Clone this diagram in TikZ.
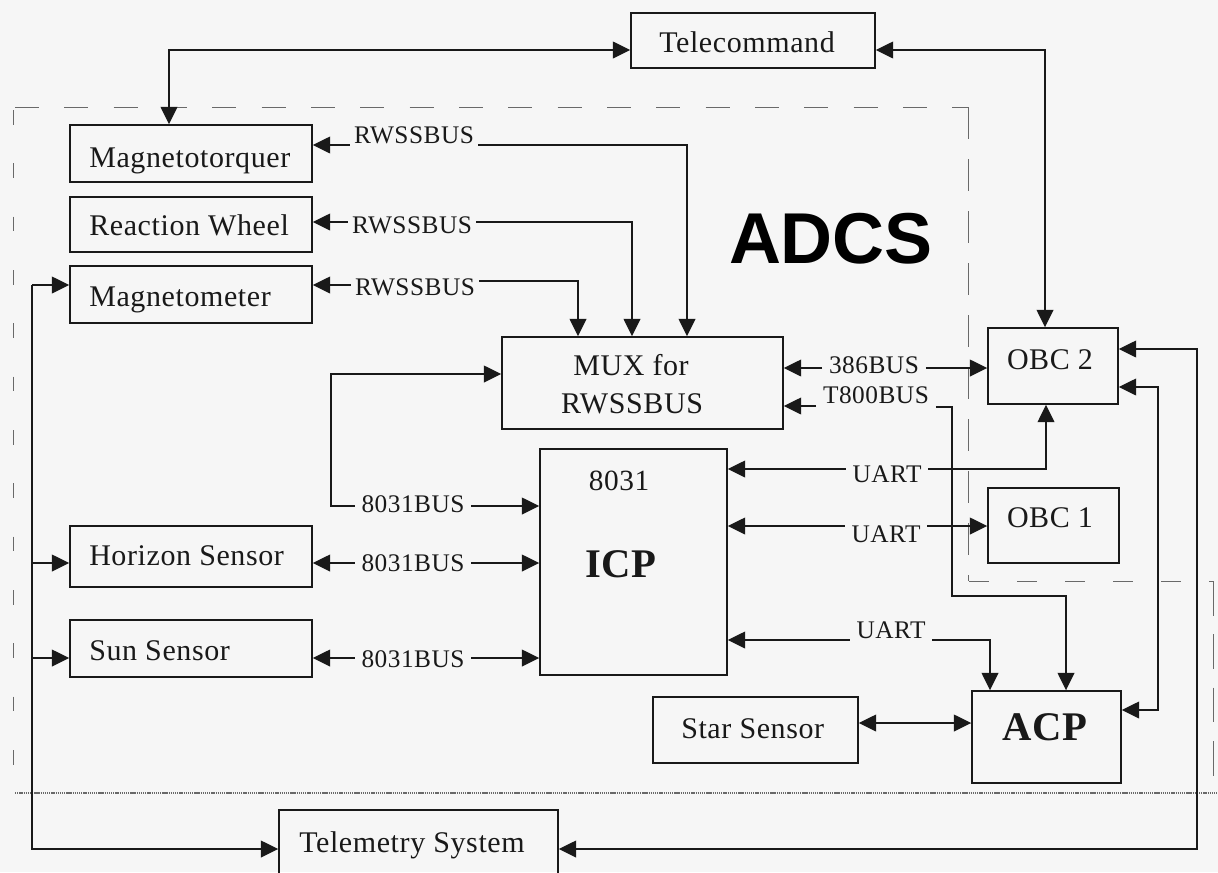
\documentclass[tikz,border=0pt]{standalone}
\usepackage{fontspec}
\setmainfont{Liberation Serif}[LetterSpace=2]
\setsansfont{Liberation Sans}
\usetikzlibrary{arrows.meta,fit}
\definecolor{paper}{RGB}{246,246,246}
\definecolor{ink}{RGB}{25,25,25}
\definecolor{rim}{RGB}{105,105,105}

\begin{document}
\begin{tikzpicture}[x=0.75pt,y=-0.75pt,
  >={Triangle[length=13pt,width=12.5pt]},
  box/.style={draw=ink,line width=1.1pt,inner sep=0pt,fit={#1}},
  txt/.style={font=\fontsize{22.5}{27}\selectfont,inner sep=0pt,anchor=base west,text=ink},
  ctxt/.style={font=\fontsize{22.5}{27}\selectfont,inner sep=0pt,anchor=base,text=ink},
  big/.style={font=\fontsize{30.5}{34}\selectfont\bfseries,inner sep=0pt,anchor=base,text=ink},
  bus/.style={font=\fontsize{19}{22}\selectfont,inner xsep=5pt,inner ysep=0pt,anchor=base,text=ink},
  conn/.style={draw=ink,line width=1.1pt},
  edge/.style={draw=rim,line width=0.75pt}]

\useasboundingbox (0,0) rectangle (1218,872);
\fill[paper] (0,0) rectangle (1218,872);
\clip (0,0) rectangle (1218,872);

% ADCS boundary
\draw[edge,dash pattern=on 18pt off 19pt] (15,107) -- (968,107);
\draw[edge,dash pattern=on 11pt off 29pt] (13,110) -- (13,790);
\draw[edge,dash pattern=on 24pt off 15pt] (968,107) -- (968,581);
\draw[edge,dash pattern=on 15pt off 21pt] (969,581) -- (1213,581);
\draw[edge,dash pattern=on 26pt off 14pt] (1213,581) -- (1213,790);
\draw[edge,line width=0.9pt,dash pattern=on 1pt off 0.6pt] (15,793) -- (1218,793);

\node[font=\fontsize{54}{54}\sffamily\bfseries,inner sep=0pt,anchor=base,text=black] (adcs) at (831,263) {ADCS};

% blocks
\node[box={(631,13) (875,68)}] (tc) {};
\node[txt] at (659,52) {Telecommand};

\node[box={(70,125) (312,182)}] (mt) {};
\node[txt] at (89,167) {Magnetotorquer};
\node[box={(70,197) (312,252)}] (rw) {};
\node[txt] at (89,235) {Reaction Wheel};
\node[box={(70,266) (312,323)}] (mm) {};
\node[txt] at (89,306) {Magnetometer};
\node[box={(70,526) (312,587)}] (hs) {};
\node[txt] at (89,565) {Horizon Sensor};
\node[box={(70,620) (312,677)}] (ss) {};
\node[txt] at (89,660) {Sun Sensor};

\node[box={(502,337) (783,429)}] (mux) {};
\node[ctxt] at (631,375) {MUX for};
\node[ctxt] at (632,413) {RWSSBUS};

\node[box={(540,449) (727,675)}] (icp) {};
\node[font=\fontsize{22}{26}\selectfont,inner sep=0pt,anchor=base,text=ink] at (619,490) {8031};
\node[big] at (621,577) {ICP};

\node[box={(988,328) (1118,404)}] (obc2) {};
\node[ctxt] at (1050,369) {OBC 2};
\node[box={(988,488) (1119,563)}] (obc1) {};
\node[ctxt] at (1050,527) {OBC 1};

\node[box={(972,691) (1121,783)}] (acp) {};
\node[big] at (1045,740) {ACP};

\node[box={(653,697) (858,763)}] (star) {};
\node[txt] at (681,738) {Star Sensor};

\node[box={(279,810) (558,880)}] (tm) {};
\node[txt] at (299,852) {Telemetry System};

% telecommand links
\draw[conn,<->] (tc.west |- 0,50) -| (169,0 |- mt.north);
\draw[conn,<->] (tc.east |- 0,50) -| (1045,0 |- obc2.north);

% RWSSBUS links to the multiplexer
\node[bus,inner xsep=3pt] (b1) at (414,143) {RWSSBUS};
\draw[conn,->] (b1.west |- 0,145) -- (mt.east |- 0,145);
\draw[conn,->] (b1.east |- 0,145) -| (687,0 |- mux.north);

\node[bus,inner xsep=3pt] (b2) at (412,233) {RWSSBUS};
\draw[conn,->] (b2.west |- 0,222) -- (rw.east |- 0,222);
\draw[conn,->] (b2.east |- 0,222) -| (632,0 |- mux.north);

\node[bus,inner xsep=3pt] (b3) at (415,295) {RWSSBUS};
\draw[conn,->] (b3.west |- 0,285) -- (mm.east |- 0,285);
\draw[conn,->] (b3.east |- 0,281) -| (578,0 |- mux.north);

% 8031BUS links
\node[bus] (c1) at (413,512) {8031BUS};
\draw[conn,->] (c1.west |- 0,506) -| (331,374) -- (mux.west |- 0,374);
\draw[conn,->] (c1.east |- 0,506) -- (icp.west |- 0,506);

\node[bus] (c2) at (413,571) {8031BUS};
\draw[conn,->] (c2.west |- 0,563) -- (hs.east |- 0,563);
\draw[conn,->] (c2.east |- 0,563) -- (icp.west |- 0,563);

\node[bus] (c3) at (413,667) {8031BUS};
\draw[conn,->] (c3.west |- 0,658) -- (ss.east |- 0,658);
\draw[conn,->] (c3.east |- 0,658) -- (icp.west |- 0,658);

% multiplexer to computers
\node[bus] (p1) at (874,373) {386BUS};
\draw[conn,->] (p1.west |- 0,368) -- (mux.east |- 0,368);
\draw[conn,->] (p1.east |- 0,368) -- (obc2.west |- 0,368);

\node[bus] (t1) at (876,403) {T800BUS};
\draw[conn,->] (t1.west |- 0,406) -- (mux.east |- 0,406);
\draw[conn,->] (t1.east |- 0,407) -- (952,407) -- (952,596) -| (1066,0 |- acp.north);

% UART links from the ICP
\node[bus] (u1) at (887,482) {UART};
\draw[conn,->] (u1.west |- 0,469) -- (icp.east |- 0,469);
\draw[conn,->] (u1.east |- 0,469) -| (1046,0 |- obc2.south);

\node[bus] (u2) at (886,542) {UART};
\draw[conn,->] (u2.west |- 0,526) -- (icp.east |- 0,526);
\draw[conn,->] (u2.east |- 0,526) -- (obc1.west |- 0,526);

\node[bus] (u3) at (891,638) {UART};
\draw[conn,->] (u3.west |- 0,640) -- (icp.east |- 0,640);
\draw[conn,->] (u3.east |- 0,640) -| (990,0 |- acp.north);

% attitude control processor links
\draw[conn,<->] (star.east |- 0,723) -- (acp.west |- 0,723);
\draw[conn,<->] (tm.east |- 0,849) -| (1197,349) -- (obc2.east |- 0,349);
\draw[conn,<->] (obc2.east |- 0,387) -| (1158,710) -- (acp.east |- 0,710);

% telemetry bus on the left
\coordinate (tb) at (32,285);
\draw[conn,->] (tb) -- (mm.west |- tb);
\draw[conn,->] (tb) |- (tm.west |- 0,849);
\draw[conn,->] (32,563) -- (hs.west |- 0,563);
\draw[conn,->] (32,658) -- (ss.west |- 0,658);
\end{tikzpicture}
\end{document}
